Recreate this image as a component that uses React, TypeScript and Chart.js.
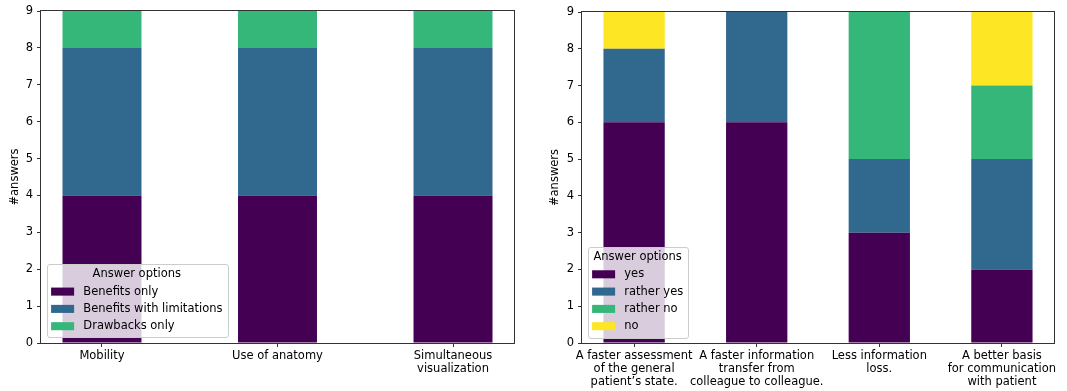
import React, { useEffect, useRef } from 'react';
import { Chart, registerables } from 'chart.js';

Chart.register(...registerables);

const FONT = '"DejaVu Sans", sans-serif';
const FS = 11.5;

// ---- Left panel data ----
const leftCategories = [['Mobility'], ['Use of anatomy'], ['Simultaneous', 'visualization']];
const leftSeriesNames = ['Benefits only', 'Benefits with limitations', 'Drawbacks only'];
const benefitsOnly = [4, 4, 4];
const benefitsWithLimitations = [4, 4, 4];
const drawbacksOnly = [1, 1, 1];

// ---- Right panel data ----
const rightCategories = [
  ['A faster assessment', 'of the general', 'patient\u2019s state.'],
  ['A faster information', 'transfer from', 'colleague to colleague.'],
  ['Less information', 'loss.'],
  ['A better basis', 'for communication', 'with patient'],
];
const rightSeriesNames = ['yes', 'rather yes', 'rather no', 'no'];
const yesValues = [6, 6, 3, 2];
const ratherYesValues = [2, 3, 2, 3];
const ratherNoValues = [0, 0, 4, 2];
const noValues = [1, 0, 0, 2];

const yMin = 0;
const yMax = 9;
const yStep = 1;
const legendTitle = 'Answer options';
const yAxisTitle = '#answers';
const viridis = ['#440154', '#31688e', '#35b779', '#fde725'];

const frameAndLegend = {
  id: 'frameAndLegend',
  afterDatasetsDraw(chart: any) {
    const { ctx, chartArea: a } = chart;
    ctx.save();
    ctx.strokeStyle = '#333';
    ctx.lineWidth = 1;
    ctx.strokeRect(a.left - 0.5, a.top - 0.5, a.right - a.left + 1, a.bottom - a.top + 1);

    const items = chart.data.datasets.map((d: any) => ({ label: d.label, color: d.backgroundColor }));
    ctx.font = `${FS}px ${FONT}`;
    const pad = 0.4 * FS;
    const handleW = 2 * FS;
    const handleH = 0.7 * FS;
    const textPad = 0.8 * FS;
    const maxText = Math.max(...items.map((i: any) => ctx.measureText(i.label).width));
    const titleW = ctx.measureText(legendTitle).width;
    const w = Math.max(pad * 2 + handleW + textPad + maxText, pad * 2 + titleW);
    const rowGap = 17.3;
    const titleOff = 10.2;
    const h = titleOff + rowGap * items.length + 11.3;
    const x = a.left + 5.5;
    const y = a.bottom - 5.5 - h;
    ctx.beginPath();
    ctx.roundRect(Math.round(x) + 0.5, Math.round(y) + 0.5, Math.round(w), Math.round(h), 2.5);
    ctx.fillStyle = 'rgba(255,255,255,0.8)';
    ctx.fill();
    ctx.strokeStyle = '#cccccc';
    ctx.stroke();

    ctx.fillStyle = '#000';
    ctx.textBaseline = 'middle';
    ctx.textAlign = 'center';
    ctx.fillText(legendTitle, x + w / 2, y + titleOff);
    ctx.textAlign = 'left';
    items.forEach((it: any, k: number) => {
      const cy = y + titleOff + rowGap * (k + 1);
      ctx.fillStyle = it.color;
      ctx.fillRect(x + pad, cy - handleH / 2, handleW, handleH);
      ctx.fillStyle = '#000';
      ctx.fillText(it.label, x + pad + handleW + textPad, cy);
    });
    ctx.restore();
  },
};

type PanelProps = {
  width: number;
  height: number;
  categories: string[][];
  names: string[];
  series: number[][];
  xMin: number;
  xMax: number;
  barPct: number;
  padTop: number;
  padRight: number;
  yAxisWidth: number;
  xAxisHeight: number;
};

function BarPanel(p: PanelProps) {
  const ref = useRef<HTMLCanvasElement>(null);
  useEffect(() => {
    if (!ref.current) return;
    const chart = new Chart(ref.current, {
      type: 'bar',
      data: {
        datasets: p.series.map((vals, k) => ({
          label: p.names[k],
          data: vals.map((v, i) => ({ x: i, y: v })),
          backgroundColor: viridis[k],
          borderWidth: 0,
          barPercentage: p.barPct,
          categoryPercentage: 1,
        })),
      },
      options: {
        responsive: false,
        animation: false,
        layout: { padding: { top: p.padTop, right: p.padRight, left: 0, bottom: 0 } },
        plugins: { legend: { display: false }, tooltip: { enabled: false } },
        scales: {
          x: {
            type: 'linear',
            stacked: true,
            min: p.xMin,
            max: p.xMax,
            offset: false,
            afterBuildTicks: (s: any) => {
              s.ticks = p.categories.map((_, i) => ({ value: i }));
            },
            afterFit: (s: any) => {
              s.height = p.xAxisHeight;
            },
            ticks: {
              autoSkip: false,
              maxRotation: 0,
              minRotation: 0,
              padding: 2,
              color: '#000',
              font: { family: FONT, size: FS, lineHeight: 1.15 },
              callback: (v: any) => p.categories[v] ?? '',
            },
            grid: { drawOnChartArea: false, drawTicks: true, tickLength: 4, color: '#333', offset: false },
            border: { display: false },
          },
          y: {
            type: 'linear',
            stacked: true,
            min: yMin,
            max: yMax,
            afterFit: (s: any) => {
              s.width = p.yAxisWidth;
            },
            ticks: {
              stepSize: yStep,
              padding: 4,
              color: '#000',
              font: { family: FONT, size: FS },
            },
            title: {
              display: true,
              text: yAxisTitle,
              color: '#000',
              font: { family: FONT, size: FS },
              padding: { top: 8, bottom: 0 },
            },
            grid: { drawOnChartArea: false, drawTicks: true, tickLength: 4, color: '#333' },
            border: { display: false },
          },
        },
      } as any,
      plugins: [frameAndLegend],
    });
    return () => chart.destroy();
  }, []);
  return (
    <canvas
      ref={ref}
      width={p.width}
      height={p.height}
      style={{ display: 'block', width: p.width, height: p.height }}
    />
  );
}

export default function App() {
  return (
    <div style={{ position: 'absolute', left: 0, top: 0, width: 1067, height: 391, background: '#fff' }}>
      <div style={{ position: 'absolute', left: 0, top: 0 }}>
        <BarPanel
          width={535}
          height={391}
          categories={leftCategories}
          names={leftSeriesNames}
          series={[benefitsOnly, benefitsWithLimitations, drawbacksOnly]}
          xMin={-0.3475}
          xMax={2.3475}
          barPct={0.45}
          padTop={11}
          padRight={21}
          yAxisWidth={41}
          xAxisHeight={48}
        />
      </div>
      <div style={{ position: 'absolute', left: 540, top: 0 }}>
        <BarPanel
          width={527}
          height={391}
          categories={rightCategories}
          names={rightSeriesNames}
          series={[yesValues, ratherYesValues, ratherNoValues, noValues]}
          xMin={-0.425}
          xMax={3.425}
          barPct={0.5}
          padTop={12}
          padRight={13}
          yAxisWidth={42}
          xAxisHeight={48}
        />
      </div>
    </div>
  );
}
